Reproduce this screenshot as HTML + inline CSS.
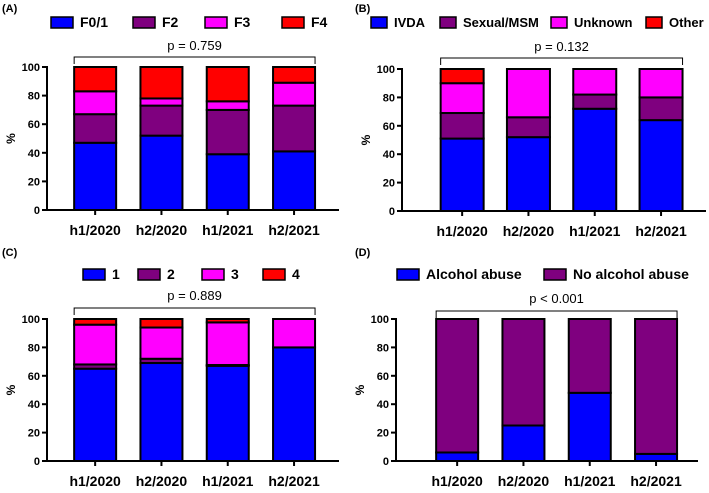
<!DOCTYPE html>
<html><head><meta charset="utf-8"><style>
body{margin:0;background:#fff;}
svg{font-family:"Liberation Sans",Arial,sans-serif;}
</style></head><body>
<svg id="c" width="709" height="488" viewBox="0 0 709 488"></svg>
<script>
const categories=["h1/2020","h2/2020","h1/2021","h2/2021"];
const colors=["#0000ff","#7f007f","#ff00ff","#ff0000"];
const seriesA=[[47,52,39,41],[20,21,31,32],[16,5,6,16],[17,22,24,11]];
const seriesB=[[51,52,72,64],[18,14,10,16],[21,34,18,20],[10,0,0,0]];
const seriesC=[[65,69,67,80],[3,3,0.6,0],[28,22,30,20],[4,6,2.4,0]];
const seriesD=[[6,25,48,5],[94,75,52,95]];
const legendA=["F0/1","F2","F3","F4"];
const legendB=["IVDA","Sexual/MSM","Unknown","Other"];
const legendC=["1","2","3","4"];
const legendD=["Alcohol abuse","No alcohol abuse"];
const pvals=["p = 0.759","p = 0.132","p = 0.889","p < 0.001"];
const yTicks=[0,20,40,60,80,100];
const NS="http://www.w3.org/2000/svg";
const svg=document.getElementById('c');
function mk(tag,attrs,parent){const e=document.createElementNS(NS,tag);for(const k in attrs)e.setAttribute(k,attrs[k]);(parent||svg).appendChild(e);return e;}
const panels=[
 {id:'a',label:'(A)',lx:2,ly:12,series:seriesA,legend:legendA,p:pvals[0],ax:47,axEnd:339,y0:210,y100:67,start:62,step:66.3,bw:42,brY:57,pY:50,legY:22,legX:[51,133,205,282],boxW:22,legFs:14},
 {id:'b',label:'(B)',lx:355,ly:12,series:seriesB,legend:legendB,p:pvals[1],ax:402,axEnd:706,y0:211,y100:69,start:429,step:66.3,bw:43,brY:58,pY:51,legY:22,legX:[371,440,551,646],boxW:16,legFs:13},
 {id:'c',label:'(C)',lx:2,ly:256,series:seriesC,legend:legendC,p:pvals[2],ax:47,axEnd:339,y0:461,y100:319,start:62,step:66.3,bw:42,brY:308,pY:300,legY:274,legX:[83,138,202,263],boxW:22,legFs:14},
 {id:'d',label:'(D)',lx:355,ly:256,series:seriesD,legend:legendD,p:pvals[3],ax:396,axEnd:698,y0:461,y100:319,start:424,step:66.3,bw:42,brY:311,pY:303,legY:274,legX:[397,544],boxW:22,legFs:14}
];
panels.forEach(P=>{
 const g=mk('g',{});
 
 
 const y=v=>P.y0-(v/100)*(P.y0-P.y100);
 const xc=i=>P.start+(i+0.5)*P.step;
 const lab=mk('text',{x:P.lx,y:P.ly,'font-size':11,'font-weight':'bold'},g);lab.textContent=P.label;
 
 P.legend.forEach((t,i)=>{
  const lg=mk('g',{},g);
  
  
  mk('rect',{x:P.legX[i],y:P.legY-5,width:P.boxW,height:11,fill:colors[i],stroke:'#000','stroke-width':1.5},lg);
  const tx=mk('text',{x:P.legX[i]+P.boxW+7,y:P.legY+5,'font-size':P.legFs,'font-weight':'bold'},lg);tx.textContent=t;
 });
 categories.forEach((c,i)=>{
  let acc=0;
  P.series.forEach((s,k)=>{
   const v=s[i];if(v<=0)return;
   const r=mk('rect',{x:xc(i)-P.bw/2,y:y(acc+v),width:P.bw,height:y(acc)-y(acc+v),fill:colors[k],stroke:'#000','stroke-width':2},g);
   
   
   acc+=v;
  });
  mk('line',{x1:xc(i),x2:xc(i),y1:P.y0,y2:P.y0+5,stroke:'#000','stroke-width':2},g);
  const t=mk('text',{x:xc(i),y:P.y0+25,'font-size':14,'font-weight':'bold','text-anchor':'middle'},g);t.textContent=c;
  
 });
 mk('line',{x1:P.ax,x2:P.ax,y1:P.y100-1,y2:P.y0,stroke:'#000','stroke-width':2},g);
 mk('line',{x1:P.ax,x2:P.axEnd,y1:P.y0,y2:P.y0,stroke:'#000','stroke-width':2},g);
 yTicks.forEach(v=>{
  mk('line',{x1:P.ax-5,x2:P.ax,y1:y(v),y2:y(v),stroke:'#000','stroke-width':2},g);
  const t=mk('text',{x:P.ax-7,y:y(v)+4,'font-size':11,'font-weight':'bold','text-anchor':'end'},g);t.textContent=v;
  
 });
 const yt=mk('text',{x:0,y:0,'font-size':12,'font-weight':'bold','text-anchor':'middle',transform:`translate(${P.ax-32},${(P.y0+P.y100)/2}) rotate(-90)`},g);yt.textContent='%';
 
 const x1=xc(0)-P.bw/2,x2=xc(3)+P.bw/2;
 mk('path',{d:`M${x1},${P.brY+7}V${P.brY}H${x2}V${P.brY+7}`,fill:'none',stroke:'#000','stroke-width':1},g);
 const pt=mk('text',{x:(x1+x2)/2,y:P.pY,'font-size':13,'text-anchor':'middle'},g);pt.textContent=P.p;
 
});
</script>
</body></html>
